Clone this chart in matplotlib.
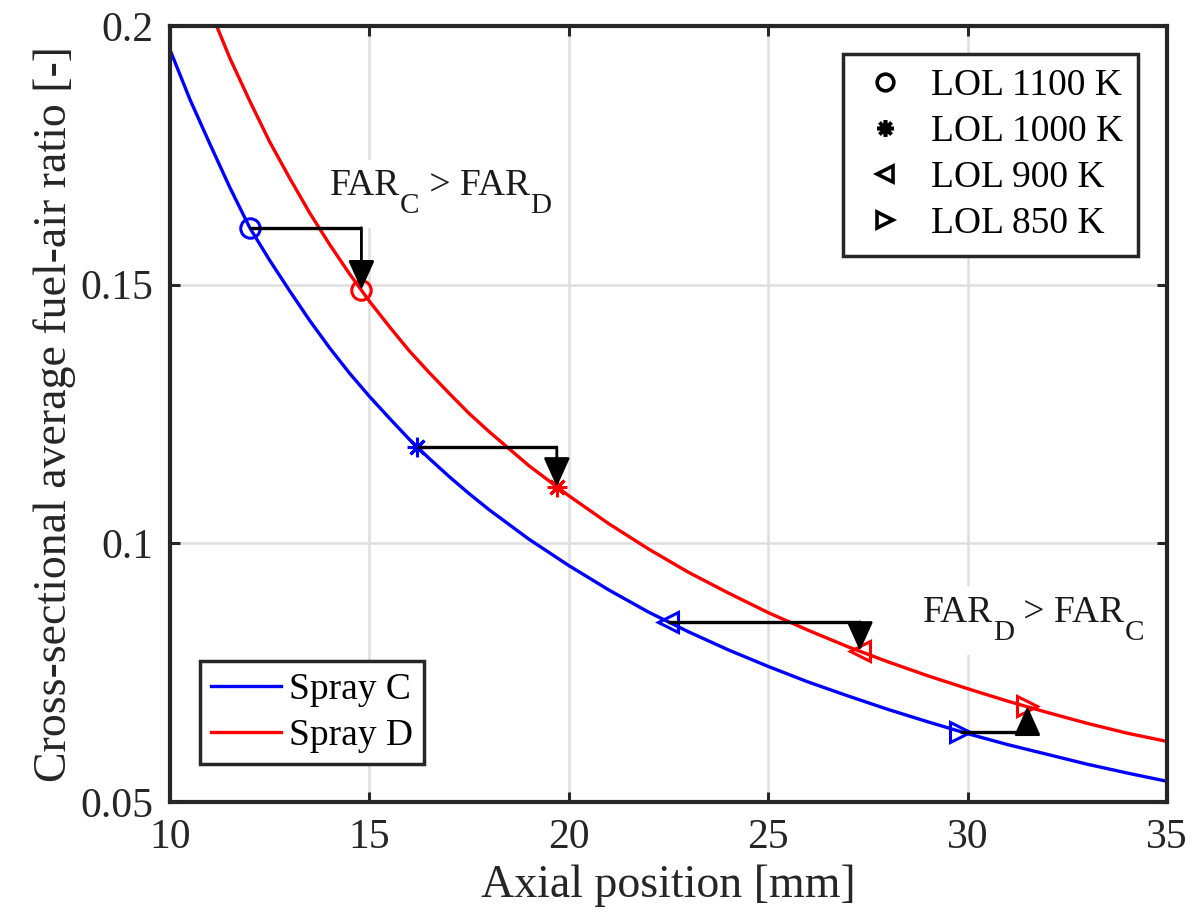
import numpy as np
import matplotlib
matplotlib.use('Agg')
import matplotlib.pyplot as plt
from matplotlib.lines import Line2D
from matplotlib.patches import Rectangle

plt.rcParams['font.family'] = 'Liberation Serif'
plt.rcParams['font.size'] = 30

# cross-sectional average FAR along the spray axis
x_c = [10, 10.5, 11, 11.5, 12, 12.5, 13, 13.5, 14, 14.5, 15, 15.5, 16, 16.5,
       17, 17.5, 18, 19, 20, 21, 22, 23, 24, 25, 26, 27, 28, 29, 30, 31, 32,
       33, 34, 35]
far_c = [0.1954, 0.1858, 0.1772, 0.1688, 0.1610, 0.1547, 0.1488, 0.1431,
         0.1378, 0.1329, 0.1284, 0.1242, 0.1201, 0.1164, 0.1129, 0.1096,
         0.1065, 0.1008, 0.0957, 0.0910, 0.0867, 0.0829, 0.0794, 0.0762,
         0.0732, 0.0705, 0.0679, 0.0655, 0.0632, 0.0611, 0.0592, 0.0573,
         0.0556, 0.0540]

x_d = [11, 11.5, 12, 12.5, 13, 13.5, 14, 14.5, 15, 15.5, 16, 16.5, 17, 17.5,
       18, 19, 20, 21, 22, 23, 24, 25, 26, 27, 28, 29, 30, 31, 32, 33, 34, 35]
far_d = [0.2032, 0.1938, 0.1855, 0.1776, 0.1706, 0.1639, 0.1578, 0.1521,
         0.1468, 0.1419, 0.1372, 0.1330, 0.1290, 0.1251, 0.1216, 0.1150,
         0.1092, 0.1038, 0.0989, 0.0944, 0.0904, 0.0866, 0.0832, 0.0800,
         0.0771, 0.0744, 0.0719, 0.0695, 0.0673, 0.0652, 0.0633, 0.0617]

# lift-off length positions for each ambient temperature
lol_labels = ['LOL 1100 K', 'LOL 1000 K', 'LOL 900 K', 'LOL 850 K']
lol_markers = ['o', (8, 2, 0), '<', '>']
lol_x_c = [12.0, 16.2, 22.5, 29.8]
lol_far_c = [0.1610, 0.1186, 0.0848, 0.0635]
lol_x_d = [14.8, 19.7, 27.3, 31.5]
lol_far_d = [0.1490, 0.1109, 0.0792, 0.0685]

fig = plt.figure(figsize=(11.98, 9.18), dpi=100)
ax = fig.add_axes([0.1419, 0.1264, 0.8322, 0.8453])
ax.set_xlim(10, 35)
ax.set_ylim(0.05, 0.2)

ax.plot(x_c, far_c, color='b', lw=2.4, label='Spray C', zorder=2)
ax.plot(x_d, far_d, color='r', lw=2.4, label='Spray D', zorder=2)

for m, xc, yc, xd, yd in zip(lol_markers, lol_x_c, lol_far_c, lol_x_d, lol_far_d):
    ax.plot(xc, yc, marker=m, ms=14, mew=2.2, mfc='none', mec='b', ls='none', zorder=3)
    ax.plot(xd, yd, marker=m, ms=14, mew=2.2, mfc='none', mec='r', ls='none', zorder=3)
    # step from spray C to the same LOL on spray D
    ax.plot([xc, xd], [yc, yc], color='k', lw=2.4, zorder=4, solid_capstyle='butt')
    ax.annotate('', xy=(xd, yd), xytext=(xd, yc),
                arrowprops=dict(arrowstyle='-|>,head_length=1.0,head_width=0.45',
                                mutation_scale=18, fc='k', ec='k', lw=2,
                                shrinkA=0, shrinkB=0),
                zorder=4)


def far_label(x, y, a, b):
    # FAR_a > FAR_b with TeX-like subscripts, on a white patch
    r = fig.canvas.get_renderer()
    pieces = [('FAR', 27, 0), (a, 21, -18), (' > FAR', 27, 0), (b, 21, -18)]
    off = 0
    boxes = []
    for s, fs, dy in pieces:
        t = ax.annotate(s, (x, y), xytext=(off, dy), textcoords='offset pixels',
                        fontsize=fs, ha='left', va='baseline', zorder=3,
                        color='#1a1a1a')
        bb = t.get_window_extent(r)
        boxes.append(bb)
        off += bb.width
    x0 = min(bb.x0 for bb in boxes) - 8
    x1 = max(bb.x1 for bb in boxes) + 8
    y0 = min(bb.y0 for bb in boxes) - 9
    y1 = max(bb.y1 for bb in boxes) + 9
    inv = ax.transAxes.inverted()
    (ax0, ay0), (ax1, ay1) = inv.transform([(x0, y0), (x1, y1)])
    ax.add_patch(Rectangle((ax0, ay0), ax1 - ax0, ay1 - ay0, transform=ax.transAxes,
                           fc='white', ec='none', zorder=1.5))


far_label(14.01, 0.1673, 'C', 'D')
far_label(28.88, 0.0848, 'D', 'C')

ax.set_xticks([10, 15, 20, 25, 30, 35])
ax.set_yticks([0.05, 0.1, 0.15, 0.2])
ax.set_yticklabels(['0.05', '0.1', '0.15', '0.2'])
ax.tick_params(direction='in', top=True, right=True, length=7, width=2.2,
               color='#262626', labelsize=30, pad=12, labelcolor='#262626')
ax.set_axisbelow(True)
ax.grid(True, color='#dedede', lw=1.8)
for s in ax.spines.values():
    s.set_linewidth(3)
    s.set_color('#262626')

ax.set_xlabel('Axial position [mm]', fontsize=33, color='#262626')
ax.set_ylabel('Cross-sectional average fuel-air ratio [-]', fontsize=33, color='#262626')
ax.xaxis.set_label_coords(0.5, -0.080)
ax.yaxis.set_label_coords(-0.094, 0.5)

handles = [Line2D([], [], marker=m, ms=12, mew=2.6, mfc='none', mec='k', ls='none')
           for m in lol_markers]
leg1 = ax.legend(handles, lol_labels, loc='upper right', bbox_to_anchor=(0.971, 0.964),
                 borderaxespad=0, fontsize=27, frameon=True, fancybox=False,
                 framealpha=1, edgecolor='#262626', handlelength=1.45,
                 handletextpad=0.5, labelspacing=0.3, borderpad=0.4)
leg1.get_frame().set_linewidth(2.5)
leg1.set_zorder(5)
ax.add_artist(leg1)

leg2 = ax.legend(loc='lower left', bbox_to_anchor=(0.030, 0.049), borderaxespad=0,
                 fontsize=27, frameon=True, fancybox=False, framealpha=1,
                 edgecolor='#262626', handlelength=1.87, handletextpad=0.21,
                 labelspacing=0.3, borderpad=0.3)
leg2.get_frame().set_linewidth(2.5)
leg2.set_zorder(5)

fig.savefig('out.png', dpi=100)
